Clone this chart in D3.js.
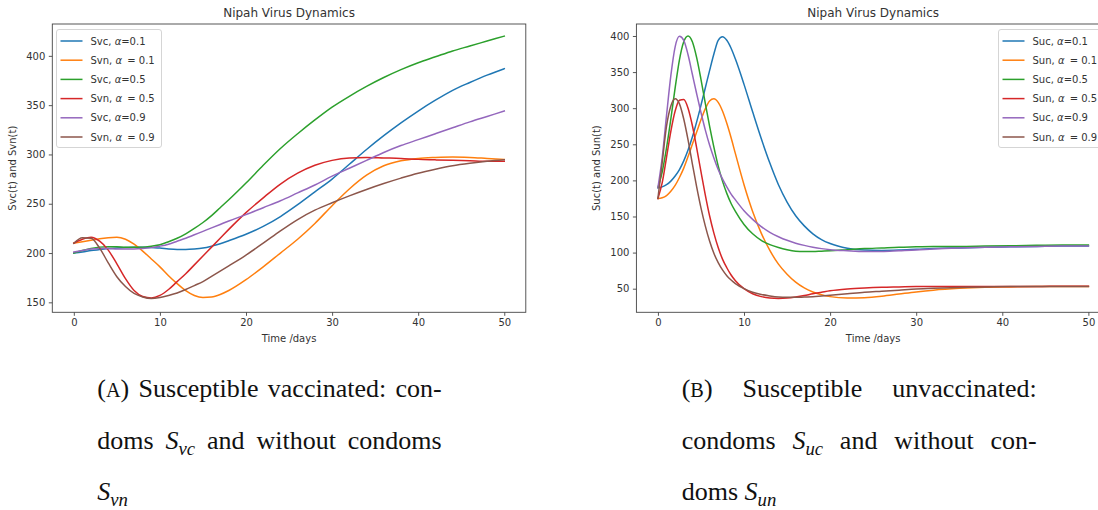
<!DOCTYPE html>
<html><head><meta charset="utf-8">
<script src="https://cdn.jsdelivr.net/npm/d3@7"></script>
<style>body{margin:0;background:#fff;} svg{display:block;}</style>
</head><body><svg id="c" width="1098" height="510"></svg>
<script>
// ---------- Panel A data (susceptible vaccinated) ----------
const timeA = [0,1,2,3,4,5,6,7,8,9,10,11,12,13,14,15,16,17,18,20,22,24,26,28,30,32,34,36,38,40,42,44,46,48,50];
const svcAlpha01 = [200,201,202.5,203.5,204.5,205,205.5,206,206,205.5,205,204,203.5,203.5,204,205,207,209.5,212.5,219,227,237,249,262,275,290,305,319,332,344,355,365,373,380.5,387];
const svnAlpha01 = [210,211.5,213,214.5,215.5,216,214,209,202,194,186,177,169,162,157,155,155.5,158,162,173,186,200,214,230,248,265,279,288.5,293.5,296,297,297.5,297,296,295];
const svcAlpha05 = [200,202.5,204.5,206,206.5,206.5,206,206,206,207,208.5,211.5,215,219.5,225,231,238,246,254,271,289,306,321,335,348,359,369,378,386,393,399,405,410,415,420];
const svnAlpha05 = [210,214,216,212,203,189,174,162,156,154.5,157,163,171,179,188,197,206,215,224,241,256,270,281,289,294,296.5,297,296.5,296,295,294.5,294,293.5,293,293];
const svcAlpha09 = [201,202.5,204,204.5,204.5,204,204,204,204.5,205.5,207,209,212,215,218.5,222,225.5,229,232.5,239,246,253,261,269,278,286,294,302,309,315,321,327,333,338.5,344];
const svnAlpha09 = [210,215.5,215,205,190,176,166,159,155.5,154,155,157,159.5,163,167,171,176.3,181.6,187,198,210,222.5,234,243.5,251,258,264.5,270.5,276,281,285,288.5,291,293,294.5];
const labelsA = ["Svc, α=0.1","Svn, α = 0.1","Svc, α=0.5","Svn, α = 0.5","Svc, α=0.9","Svn, α = 0.9"];
const yTicksA = [150,200,250,300,350,400];

// ---------- Panel B data (susceptible unvaccinated) ----------
const timeB = [0,0.5,1,1.5,2,2.5,3,3.5,4,4.5,5,5.5,6,6.5,7,7.5,8,8.5,9,10,11,12,13,14,15,16,17,18,19,20,22,24,26,28,30,32,35,38,41,44,47,50];
const sucAlpha01 = [190,191,194,199,206,215,227,242,260,281,304,328,352,375,394,399,394,383,368,333,295,258,224,194,170,151,137,126,118,112.5,106,103.5,103,103.5,104.5,105.5,106.5,107.5,108,108.5,109,109];
const sunAlpha01 = [175,176,179,185,193,204,217,233,250,267,284,299,310,313,308,296,279,259,237,194,157,127,103,84,70,59,51,45.5,41.5,39,37,37.5,39.5,42.5,45.5,48,50.5,52,52.5,53,53,53];
const sucAlpha05 = [190,212,245,285,328,367,392,400,392,370,340,307,275,246,220,199,182,168,157,139,126,117,111,107,104,102,101.5,101.5,102,102.5,104,105.5,106.5,107.5,108,108.5,108.5,109,109.5,110,110.5,110.5];
const sunAlpha05 = [175,197,232,268,296,311,312,300,276,245,212,180,151,127,107,91,79,69,61,50,43,39,37,36.5,37,38.5,40.5,43,45,47,49.5,51,52,52.5,53,53,53,53,53,53,53.5,53.5];
const sucAlpha09 = [190,232,290,345,385,399.5,394,374,347,320,294,270,249,231,215,202,191,181,173,158,146,136,128,122,117,113,110,107.5,105.5,104,102.5,101.5,101.5,102.5,103.5,105,106.5,107.5,108,108.5,109,109];
const sunAlpha09 = [175,225,275,303,313,306,285,256,223,191,162,137,116,99,86,76,68,62,57,50,45,42,40,38.5,38,38,38.5,39,40,41,43,45,46.5,48,49.5,50.5,51.5,52.5,53,53,53,53];
const labelsB = ["Suc, α=0.1","Sun, α = 0.1","Suc, α=0.5","Sun, α = 0.5","Suc, α=0.9","Sun, α = 0.9"];
const yTicksB = [50,100,150,200,250,300,350,400];

const xTicks = [0,10,20,30,40,50];
const palette = ["#1f77b4","#ff7f0e","#2ca02c","#d62728","#9467bd","#8c564b"];

const svg = d3.select("#c");
const TXT = "#333";

function drawPanel(cfg) {
  const x = d3.scaleLinear().domain([-2.5, 52.5]).range([cfg.left, cfg.right]);
  const y = d3.scaleLinear().domain(cfg.yDomain).range([cfg.bottom, cfg.top]);
  const g = svg.append("g");

  const line = d3.line().curve(d3.curveMonotoneX).x(d => x(d[0])).y(d => y(d[1]));
  cfg.series.forEach((s, i) => {
    g.append("path")
      .attr("d", line(cfg.time.map((t, k) => [t, s[k]])))
      .attr("fill", "none").attr("stroke", palette[i]).attr("stroke-width", 1.5)
      .attr("stroke-linejoin", "round").attr("stroke-linecap", "square");
  });

  g.append("rect").attr("x", cfg.left).attr("y", cfg.top)
    .attr("width", cfg.right - cfg.left).attr("height", cfg.bottom - cfg.top)
    .attr("fill", "none").attr("stroke", "#444").attr("stroke-width", 0.9);

  const xAxis = d3.axisBottom(x).tickValues(xTicks).tickSize(3.5).tickPadding(3.5).tickFormat(d3.format("d"));
  const gx = g.append("g").attr("transform", `translate(0,${cfg.bottom})`).call(xAxis);
  const yAxis = d3.axisLeft(y).tickValues(cfg.yTicks).tickSize(3.5).tickPadding(3.5).tickFormat(d3.format("d"));
  const gy = g.append("g").attr("transform", `translate(${cfg.left},0)`).call(yAxis);
  [gx, gy].forEach(a => {
    a.select(".domain").remove();
    a.selectAll("line").attr("stroke", "#444").attr("stroke-width", 0.9);
    a.selectAll("text").attr("fill", TXT).style("font-family", "DejaVu Sans").style("font-size", "10px");
  });

  g.append("text").attr("x", (cfg.left + cfg.right) / 2).attr("y", 16.5)
    .attr("text-anchor", "middle").attr("fill", TXT)
    .style("font-family", "DejaVu Sans").style("font-size", "12px").text("Nipah Virus Dynamics");
  g.append("text").attr("x", (cfg.left + cfg.right) / 2).attr("y", 342)
    .attr("text-anchor", "middle").attr("fill", TXT)
    .style("font-family", "DejaVu Sans").style("font-size", "10px").text("Time /days");
  g.append("text").attr("transform", `translate(${cfg.yLabelX},${(cfg.top + cfg.bottom) / 2}) rotate(-90)`)
    .attr("text-anchor", "middle").attr("fill", TXT)
    .style("font-family", "DejaVu Sans").style("font-size", "10px").text(cfg.ylabel);

  const L = cfg.legend;
  const lg = g.append("g");
  lg.append("rect").attr("x", L.x).attr("y", L.y).attr("width", L.w).attr("height", L.h)
    .attr("rx", 2.5).attr("fill", "#fff").attr("fill-opacity", 0.85)
    .attr("stroke", "#d0d0d0").attr("stroke-width", 0.9);
  cfg.labels.forEach((lab, i) => {
    const cy = L.y + 11.5 + i * 19.2;
    lg.append("line").attr("x1", L.x + 4).attr("x2", L.x + 26).attr("y1", cy).attr("y2", cy)
      .attr("stroke", palette[i]).attr("stroke-width", 1.5);
    const t = lg.append("text").attr("x", L.x + 34).attr("y", cy + 3.6).attr("fill", TXT)
      .style("font-family", "DejaVu Sans").style("font-size", "10px");
    const parts = lab.split("α");
    t.append("tspan").text(parts[0]);
    t.append("tspan").style("font-style", "italic").text("α");
    const rest = t.append("tspan").text(parts[1]);
    if (parts[1].startsWith(" ")) rest.attr("dx", 2);
  });
}

drawPanel({
  left: 52.3, right: 525.8, top: 24, bottom: 312.3, yDomain: [139.9, 432.3], yTicks: yTicksA,
  time: timeA, series: [svcAlpha01, svnAlpha01, svcAlpha05, svnAlpha05, svcAlpha09, svnAlpha09],
  labels: labelsA, ylabel: "Svc(t) and Svn(t)", yLabelX: 15.5,
  legend: {x: 56.5, y: 29.5, w: 105, h: 118}
});
drawPanel({
  left: 636.4, right: 1109.9, top: 24, bottom: 312.3, yDomain: [17.3, 416.6], yTicks: yTicksB,
  time: timeB, series: [sucAlpha01, sunAlpha01, sucAlpha05, sunAlpha05, sucAlpha09, sunAlpha09],
  labels: labelsB, ylabel: "Suc(t) and Sun(t)", yLabelX: 600,
  legend: {x: 998.5, y: 29.5, w: 105, h: 118}
});

// ---------- Captions (justified serif text) ----------
const capFont = "'Liberation Serif','Times New Roman',serif";
const capSize = 26;
const captionA = [
  {words: [[["(",""],["A","sc"],[")",""]], [["Susceptible",""]], [["vaccinated:",""]], [["con-",""]]], justify: true},
  {words: [[["doms",""]], [["S","i"],["vc","sub"]], [["and",""]], [["without",""]], [["condoms",""]]], justify: true},
  {words: [[["S","i"],["vn","sub"]]], justify: false}
];
const captionB = [
  {words: [[["(",""],["B","sc"],[")",""]], [["Susceptible",""]], [["unvaccinated:",""]]], justify: true},
  {words: [[["condoms",""]], [["S","i"],["uc","sub"]], [["and",""]], [["without",""]], [["con-",""]]], justify: true},
  {words: [[["doms",""]], [["S","i"],["un","sub"]]], justify: false}
];

function drawCaption(lines, x0, x1, baselines) {
  const g = svg.append("g");
  lines.forEach((ln, li) => {
    const texts = ln.words.map(w => {
      const t = g.append("text").attr("y", baselines[li]).attr("fill", "#111")
        .style("font-family", capFont).style("font-size", capSize + "px");
      w.forEach(([s, st]) => {
        const sp = t.append("tspan").text(s);
        if (st === "sc") sp.style("font-size", (capSize * 0.78) + "px");
        if (st === "i") sp.style("font-style", "italic");
        if (st === "sub") sp.style("font-style", "italic").style("font-size", (capSize * 0.72) + "px").attr("dy", 6);
      });
      return t;
    });
    const widths = texts.map(t => t.node().getComputedTextLength());
    const total = d3.sum(widths);
    const gap = (ln.justify && texts.length > 1) ? (x1 - x0 - total) / (texts.length - 1) : capSize * 0.25;
    let cx = x0;
    texts.forEach((t, i) => { t.attr("x", cx); cx += widths[i] + gap; });
  });
}
drawCaption(captionA, 97.3, 441.7, [397, 449, 500]);
drawCaption(captionB, 681.7, 1036.7, [397, 449, 500]);
</script></body></html>
